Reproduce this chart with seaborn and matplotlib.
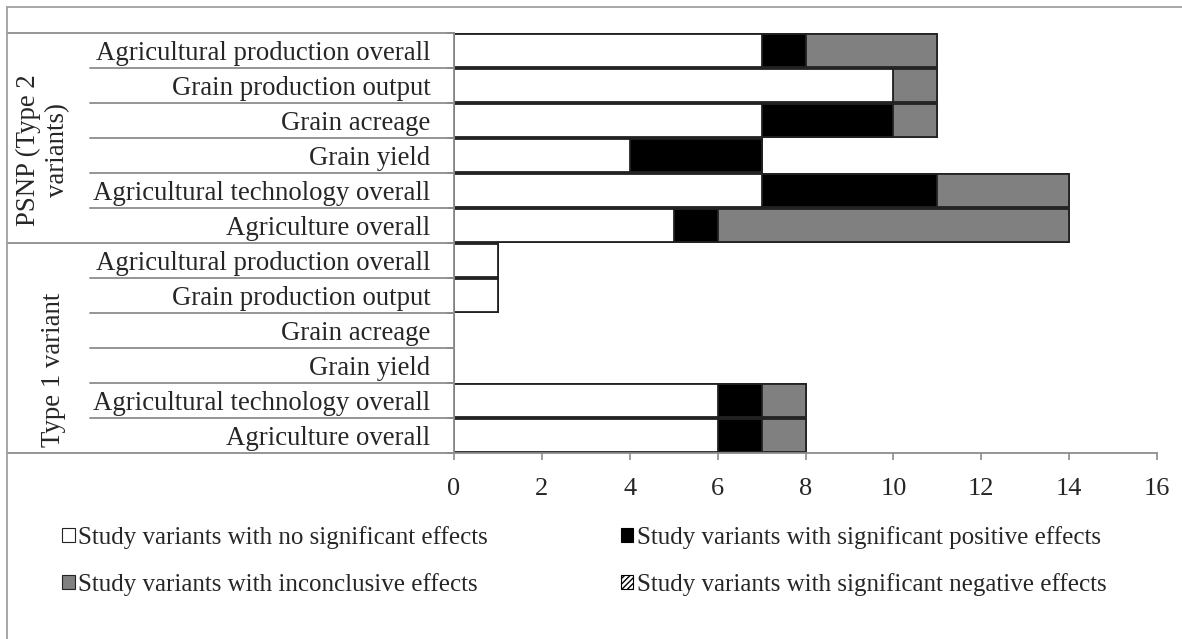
import numpy as np
import pandas as pd
import matplotlib
matplotlib.use("Agg")
import matplotlib.pyplot as plt
from matplotlib.patches import Patch
from matplotlib.lines import Line2D
import seaborn as sns

# ---- data (top to bottom) ----
GROUPS = ["PSNP (Type 2\nvariants)", "Type 1 variant"]
MEASURES = [
    "Agricultural production overall",
    "Grain production output",
    "Grain acreage",
    "Grain yield",
    "Agricultural technology overall",
    "Agriculture overall",
]
no_effect_psnp = [7, 10, 7, 4, 7, 5]
positive_psnp = [1, 0, 3, 3, 4, 1]
inconclusive_psnp = [3, 1, 1, 0, 3, 8]
negative_psnp = [0, 0, 0, 0, 0, 0]

no_effect_t1 = [1, 1, 0, 0, 6, 6]
positive_t1 = [0, 0, 0, 0, 1, 1]
inconclusive_t1 = [0, 0, 0, 0, 1, 1]
negative_t1 = [0, 0, 0, 0, 0, 0]

SERIES = [
    "Study variants with no significant effects",
    "Study variants with significant positive effects",
    "Study variants with inconclusive effects",
    "Study variants with significant negative effects",
]
X_TICKS = [0, 2, 4, 6, 8, 10, 12, 14, 16]

W, H = 1182, 639
LINE_GRAY = "#8c8c8c"


def build_frame():
    rows = []
    for g, (ne, po, inc, neg) in zip(
        GROUPS,
        [(no_effect_psnp, positive_psnp, inconclusive_psnp, negative_psnp),
         (no_effect_t1, positive_t1, inconclusive_t1, negative_t1)],
    ):
        for m, a, b, c, d in zip(MEASURES, ne, po, inc, neg):
            rows.append({"group": g, "measure": m, "none": a, "pos": b, "inc": c, "neg": d})
    df = pd.DataFrame(rows)
    df["row"] = [f"{i:02d}" for i in range(len(df))]
    df["cum_none"] = df["none"]
    df["cum_pos"] = df["cum_none"] + df["pos"]
    df["cum_inc"] = df["cum_pos"] + df["inc"]
    df["cum_neg"] = df["cum_inc"] + df["neg"]
    return df


def main():
    sns.set_theme(style="white")
    plt.rcParams["font.family"] = ["Liberation Serif", "DejaVu Serif"]

    df = build_frame()
    order = list(df["row"])

    fig = plt.figure(figsize=(W / 100, H / 100), dpi=100)
    ax = fig.add_axes([454 / W, 1 - 453 / H, (1157 - 454) / W, (453 - 33) / H])

    # stacked bars: draw cumulative totals from the longest to the shortest
    layers = [("cum_neg", "white"), ("cum_inc", "#808080"), ("cum_pos", "black"), ("cum_none", "white")]
    for col, color in layers:
        sns.barplot(data=df, y="row", x=col, order=order, orient="h", color=color,
                    edgecolor="#222222", linewidth=1.3, width=0.93, saturation=1,
                    ax=ax, errorbar=None)

    ax.set_xlim(0, 16)
    ax.set_ylim(11.5, -0.5)
    ax.set_xlabel("")
    ax.set_ylabel("")
    ax.set_xticks(X_TICKS)
    ax.set_xticklabels([str(t) for t in X_TICKS], fontsize=19)
    ax.tick_params(axis="x", length=5, width=1.2, color=LINE_GRAY, pad=13, bottom=True)

    ax.set_yticks(range(len(df)))
    ax.set_yticklabels(df["measure"], fontsize=19.3)
    ax.tick_params(axis="y", length=0, pad=17)
    ax.set_yticks(np.arange(-0.5, 12, 1), minor=True)
    ax.tick_params(axis="y", which="minor", length=5, width=1.2, color=LINE_GRAY, left=True)

    for s in ["top", "right"]:
        ax.spines[s].set_visible(False)
    for s in ["left", "bottom"]:
        ax.spines[s].set_color(LINE_GRAY)
        ax.spines[s].set_linewidth(1.3)

    # row separators in the label area
    trans = ax.get_yaxis_transform()
    x_sub = (90 - 454) / (1157 - 454)
    x_grp = (7 - 454) / (1157 - 454)
    for b in np.arange(-0.5, 12, 1):
        x0 = x_grp if b in (-0.5, 5.5, 11.5) else x_sub
        ax.add_line(Line2D([x0, 0], [b, b], transform=trans, color=LINE_GRAY,
                           lw=1.3, clip_on=False))

    # group labels
    fig.text(43 / W, 1 - 150 / H, GROUPS[0], rotation=90, ha="center", va="center",
             fontsize=19.3, linespacing=1.2)
    fig.text(54 / W, 1 - 370 / H, GROUPS[1], rotation=90, ha="center", va="center",
             fontsize=19.3)

    # outer frame (top and left edges visible)
    fig.add_artist(Line2D([7 / W, 1], [1 - 7 / H, 1 - 7 / H], transform=fig.transFigure,
                          color="#a0a0a0", lw=1.3))
    fig.add_artist(Line2D([7 / W, 7 / W], [0, 1 - 7 / H], transform=fig.transFigure,
                          color="#a0a0a0", lw=1.3))

    handles = [
        Patch(facecolor="white", edgecolor="#222222", lw=0.8),
        Patch(facecolor="#808080", edgecolor="#222222", lw=0.8),
        Patch(facecolor="black", edgecolor="black", lw=0.8),
        Patch(facecolor="white", edgecolor="black", lw=0.8, hatch="//////"),
    ]
    labels = [SERIES[0], SERIES[2], SERIES[1], SERIES[3]]
    fig.legend(handles, labels, ncol=2, loc="upper left", bbox_to_anchor=(52 / W, 1 - 516 / H),
               frameon=False, fontsize=18, handlelength=0.5, handleheight=0.5,
               handletextpad=0.15, columnspacing=5.3, labelspacing=0.95, borderaxespad=0)

    fig.savefig("out.png", dpi=100)
    plt.close(fig)


if __name__ == "__main__":
    main()
